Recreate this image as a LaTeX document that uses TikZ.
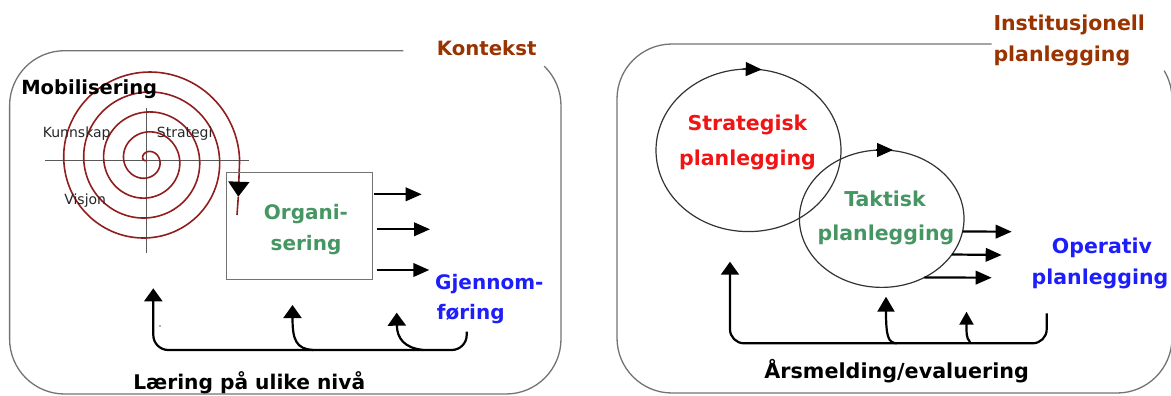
\documentclass[tikz,border=0pt]{standalone}
\usepackage{fontspec}
\setmainfont{DejaVu Sans}
\usetikzlibrary{arrows.meta,shapes.geometric}
\definecolor{kbrown}{RGB}{153,51,0}
\definecolor{kred}{RGB}{240,20,20}
\definecolor{kgreen}{RGB}{70,150,100}
\definecolor{kblue}{RGB}{30,30,250}
\definecolor{spiralred}{RGB}{145,30,30}
\tikzset{
  frame/.style={draw=black!55, line width=1.3pt},
  obox/.style={draw=black!55, line width=1.2pt, inner sep=0pt, outer sep=0pt},
  ell/.style={ellipse, draw=black!80, line width=1.2pt, inner sep=0pt, outer sep=0pt},
  fwd/.style={draw=black, line width=2.2pt, -{Triangle[width=13.5pt,length=16pt]}},
  ellarrow/.style={draw=black, line width=1.2pt, -{Triangle[width=14pt,length=16pt]}},
  fb/.style={draw=black, line width=2.2pt, -{Triangle[width=18pt,length=13pt]}},
  spiral/.style={draw=spiralred, line width=1.6pt},
  cross/.style={draw=black!65, line width=1.1pt},
  lbl/.style={inner sep=0pt, font=\bfseries\fontsize{20.5}{24}\selectfont},
  smalllbl/.style={inner sep=0pt, text=black!85, font=\fontsize{14}{17}\selectfont}
}
\begin{document}
\begin{tikzpicture}[x=1pt,y=-1pt]
\useasboundingbox (0,0) rectangle (1171,396);

% ---------- left panel frame ----------
\draw[frame, rounded corners=55pt] (403.3,50.7) -- (9.6,50.7) -- (9.6,394) -- (561,394) -- (561,105.7);
\draw[frame] (561,105.7) arc[start angle=0, end angle=46, radius=55pt];

% ---------- right panel frame ----------
\draw[frame, rounded corners=55pt] (991.7,44) -- (617,44) -- (617,393) -- (1172,393) -- (1172,99);
\draw[frame] (1172,99) arc[start angle=0, end angle=31, radius=55pt];

% ---------- spiral with cross ----------
\draw[cross] (45,160.7) -- (249,160.7);
\draw[cross] (146.7,108) -- (146.7,252.7);
\draw[spiral] plot[domain=-230:1440, samples=500, smooth] ({146.7+(13+0.0555*\x)*cos(\x)}, {160+(13+0.0555*\x)*sin(\x)});
\coordinate (spEnd) at (239.6,160);
\coordinate (spTip) at (238.3,196.7);
\coordinate (spTail) at (237,215);
\draw[spiral, -{Triangle[width=21pt,length=15pt,color=black,fill=black]}] (spEnd) -- (spTip);
\draw[spiral] (spTip) -- (spTail);

\node[smalllbl, anchor=base] (kun) at (76.7,137.3) {Kunnskap};
\node[smalllbl, anchor=base] (strg) at (184.7,137.3) {Strategi};
\node[smalllbl, anchor=base] (vis) at (85.2,204) {Visjon};
\node[lbl, anchor=base, font=\bfseries\fontsize{19.5}{24}\selectfont] (mob) at (89.2,95) {Mobilisering};

% ---------- Organisering ----------
\node[obox, minimum width=146pt, minimum height=106.6pt] (org) at (299.7,226) {};
\node[lbl, text=kgreen, anchor=base, font=\bfseries\fontsize{20}{24}\selectfont] (org1) at (306,219.3) {Organi-};
\node[lbl, text=kgreen, anchor=base, font=\bfseries\fontsize{20}{24}\selectfont] (org2) at (306,250) {sering};

\coordinate (g1) at (421.7,194.3);
\coordinate (g2) at (430,229.3);
\coordinate (g3) at (429.3,270);
\draw[fwd] (org.east |- g1) ++(1.5,0) -- (g1);
\draw[fwd] (org.east |- g2) ++(4.5,0) -- (g2);
\draw[fwd] (org.east |- g3) ++(4,0) -- (g3);

\node[lbl, text=kblue, anchor=base west, font=\bfseries\fontsize{20}{24}\selectfont] (gj1) at (435,289.3) {Gjennom-};
\node[lbl, text=kblue, anchor=base west, font=\bfseries\fontsize{20}{24}\selectfont] (gj2) at (436.7,319.3) {føring};

% ---------- left feedback ----------
\coordinate (lf0) at (466.7,331.7);
\coordinate (lfA) at (466.7,350);
\coordinate (lfB) at (153.3,350);
\coordinate (lf1) at (153.3,288.3);
\draw[fb, rounded corners=15pt] (lf0) -- (lfA) -- (lfB) -- (lf1);
\coordinate (lm0) at (313.3,350);
\coordinate (lm1) at (292.5,305);
\draw[fb] (lm0) .. controls (296,349) and (292.5,340) .. (lm1);
\coordinate (lr0) at (423.3,350);
\coordinate (lr1) at (396.7,312.7);
\draw[fb] (lr0) .. controls (404,348) and (397,338) .. (lr1);
\fill[black!60] (160,326) circle[radius=0.8pt];

\node[lbl, anchor=base, font=\bfseries\fontsize{20.2}{24}\selectfont] (lae) at (249.2,389.3) {Læring på ulike nivå};
\node[lbl, text=kbrown, anchor=base, font=\bfseries\fontsize{19.7}{24}\selectfont] (kon) at (486.7,56) {Kontekst};

% ---------- right panel ----------
\node[ell, minimum width=185pt, minimum height=162.6pt] (sp) at (748.5,150.3) {};
\node[ell, minimum width=164.6pt, minimum height=137.4pt] (tp) at (881.7,218.7) {};
\draw[ellarrow] ([xshift=-6pt]sp.north) -- ([xshift=13.2pt,yshift=-0.5pt]sp.north);
\draw[ellarrow] ([xshift=-6pt]tp.north) -- ([xshift=11.3pt]tp.north);

\node[lbl, text=kred, anchor=base] (sp1) at (747.5,131) {Strategisk};
\node[lbl, text=kred, anchor=base] (sp2) at (747.5,165) {planlegging};
\node[lbl, text=kgreen, anchor=base] (tp1) at (885,206.7) {Taktisk};
\node[lbl, text=kgreen, anchor=base] (tp2) at (886,240) {planlegging};

\coordinate (o1) at (1011.7,231.7);
\coordinate (o2) at (1001.7,255);
\coordinate (o3) at (991.7,277.7);
\draw[fwd] (tp.-9.1) -- (o1);
\draw[fwd] (tp.-27.4) -- (o2);
\draw[fwd] (tp.-54.4) -- (o3);

\node[lbl, text=kblue, anchor=base] (op1) at (1102,253) {Operativ};
\node[lbl, text=kblue, anchor=base] (op2) at (1100,284) {planlegging};

\node[lbl, text=kbrown, anchor=base west] (in1) at (993.3,30.7) {Institusjonell};
\node[lbl, text=kbrown, anchor=base west] (in2) at (993.3,61.7) {planlegging};

% ---------- right feedback ----------
\coordinate (rf0) at (1046.7,313.3);
\coordinate (rfA) at (1046.7,343.3);
\coordinate (rfB) at (730,343.3);
\coordinate (rf1) at (730,261.7);
\draw[fb, rounded corners=14pt] (rf0) -- (rfA) -- (rfB) -- (rf1);
\coordinate (rm0) at (896.7,343.3);
\coordinate (rm1) at (886,296.7);
\draw[fb, -{Triangle[width=17pt,length=15pt]}] (rm0) .. controls (888,343) and (886,336) .. (rm1);
\coordinate (rr0) at (970,342);
\coordinate (rr1) at (966.5,311.7);
\draw[fb, -{Triangle[width=14pt,length=13pt]}] (rr0) .. controls (966,338) and (966.5,332) .. (rr1);

\node[lbl, anchor=base, font=\bfseries\fontsize{20.7}{24}\selectfont] (ars) at (896.7,378.3) {Årsmelding/evaluering};
\end{tikzpicture}
\end{document}
